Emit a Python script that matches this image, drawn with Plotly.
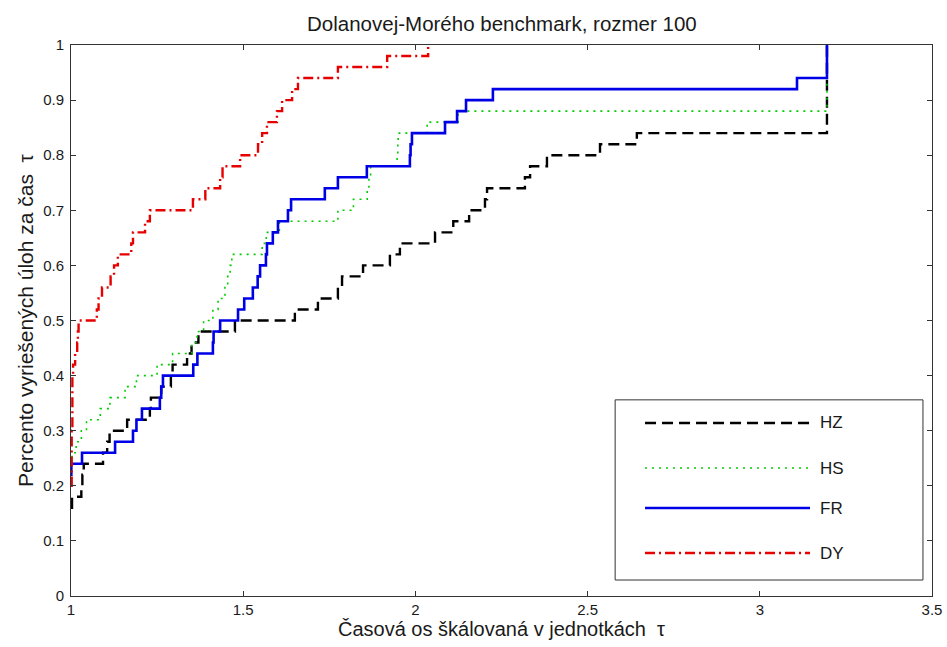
import plotly.graph_objects as go

# ---- data (performance profile) ----
hz_x = [1.000, 1.003, 1.030, 1.033, 1.037, 1.093, 1.105, 1.112, 1.163, 1.229, 1.232, 1.262,
        1.290, 1.295, 1.337, 1.350, 1.370, 1.476, 1.650, 1.717, 1.775, 1.787, 1.848, 1.926,
        1.955, 2.057, 2.110, 2.156, 2.202, 2.208, 2.318, 2.333, 2.382, 2.536, 2.643, 3.195]
hz_y = [0.16, 0.18, 0.20, 0.22, 0.24, 0.26, 0.28, 0.30, 0.32, 0.34, 0.36, 0.38,
        0.40, 0.42, 0.44, 0.46, 0.48, 0.50, 0.52, 0.54, 0.56, 0.58, 0.60, 0.62,
        0.64, 0.66, 0.68, 0.70, 0.72, 0.74, 0.76, 0.78, 0.80, 0.82, 0.84, 1.00]

hs_x = [1.000, 1.003, 1.015, 1.030, 1.045, 1.085, 1.113, 1.157, 1.190, 1.250, 1.295, 1.351,
        1.366, 1.385, 1.412, 1.427, 1.447, 1.455, 1.462, 1.467, 1.555, 1.567, 1.605, 1.775,
        1.820, 1.860, 1.865, 1.870, 1.947, 1.949, 1.950, 2.034, 2.124, 3.195]
hs_y = [0.24, 0.26, 0.28, 0.30, 0.32, 0.34, 0.36, 0.38, 0.40, 0.42, 0.44, 0.46,
        0.48, 0.50, 0.52, 0.54, 0.56, 0.58, 0.60, 0.62, 0.64, 0.66, 0.68, 0.70,
        0.72, 0.74, 0.76, 0.78, 0.80, 0.82, 0.84, 0.86, 0.88, 1.00]

fr_x = [1.000, 1.001, 1.032, 1.128, 1.180, 1.190, 1.206, 1.258, 1.262, 1.267, 1.355, 1.367,
        1.412, 1.414, 1.433, 1.485, 1.503, 1.528, 1.542, 1.549, 1.566, 1.569, 1.586, 1.601,
        1.630, 1.639, 1.737, 1.775, 1.859, 1.984, 1.986, 1.990, 2.086, 2.121, 2.147, 2.225,
        3.108, 3.195]
fr_y = [0.22, 0.24, 0.26, 0.28, 0.30, 0.32, 0.34, 0.36, 0.38, 0.40, 0.42, 0.44,
        0.46, 0.48, 0.50, 0.52, 0.54, 0.56, 0.58, 0.60, 0.62, 0.64, 0.66, 0.68,
        0.70, 0.72, 0.74, 0.76, 0.78, 0.80, 0.82, 0.84, 0.86, 0.88, 0.90, 0.92,
        0.94, 1.00]

dy_x = [1.000, 1.002, 1.004, 1.006, 1.012, 1.018, 1.020, 1.022, 1.075, 1.080, 1.090, 1.115,
        1.125, 1.136, 1.175, 1.180, 1.215, 1.229, 1.354, 1.390, 1.433, 1.440, 1.491, 1.543,
        1.555, 1.569, 1.598, 1.613, 1.642, 1.659, 1.775, 1.918, 2.037]
dy_y = [0.20, 0.30, 0.40, 0.42, 0.44, 0.46, 0.48, 0.50, 0.52, 0.54, 0.56, 0.58,
        0.60, 0.62, 0.64, 0.66, 0.68, 0.70, 0.72, 0.74, 0.76, 0.78, 0.80, 0.82,
        0.84, 0.86, 0.88, 0.90, 0.92, 0.94, 0.96, 0.98, 1.00]

series_names = ["HZ", "HS", "FR", "DY"]

x_ticks = [1, 1.5, 2, 2.5, 3, 3.5]
x_tick_labels = ["1", "1.5", "2", "2.5", "3", "3.5"]
y_ticks = [0, 0.1, 0.2, 0.3, 0.4, 0.5, 0.6, 0.7, 0.8, 0.9, 1]
y_tick_labels = ["0", "0.1", "0.2", "0.3", "0.4", "0.5", "0.6", "0.7", "0.8", "0.9", "1"]

FONT = "Liberation Sans, Arial, sans-serif"
TXT = "#1a1a1a"

styles = [
    dict(color="black", width=2.4, dash="11px,6px"),
    dict(color="#00cc00", width=1.6, dash="2px,5px"),
    dict(color="#0000e6", width=2.6, dash="solid"),
    dict(color="#e60000", width=2.4, dash="10px,4px,2px,4px"),
]
data = [(hz_x, hz_y), (hs_x, hs_y), (fr_x, fr_y), (dy_x, dy_y)]

fig = go.Figure()
for name, (xs, ys), ln in zip(series_names, data, styles):
    fig.add_trace(go.Scatter(x=xs, y=ys, mode="lines", name=name, line=ln,
                             line_shape="hv", showlegend=False))

# ---- legend box drawn in the MATLAB style (lines + labels inside a framed box) ----
fig.add_shape(type="rect", xref="paper", yref="paper", x0=0.632, x1=0.9895, y0=0.029, y1=0.356,
              line=dict(color="#333333", width=1), fillcolor="white", layer="above")
row_y = [0.314, 0.2323, 0.1597, 0.078]
for name, ln, ry in zip(series_names, styles, row_y):
    fig.add_shape(type="line", xref="paper", yref="paper", x0=0.6667, x1=0.8583, y0=ry, y1=ry,
                  line=ln, layer="above")
    fig.add_annotation(xref="paper", yref="paper", x=0.868, y=ry, text=name, showarrow=False,
                       xanchor="left", yanchor="middle",
                       font=dict(family=FONT, size=17, color=TXT))

axis_common = dict(showline=True, linecolor="#333333", linewidth=1, mirror="ticks",
                   ticks="inside", ticklen=5, tickcolor="#333333", showgrid=False,
                   zeroline=False, automargin=False,
                   tickfont=dict(family=FONT, size=15, color=TXT))

fig.update_layout(
    width=947, height=647,
    margin=dict(l=71, r=15, t=45, b=51),
    paper_bgcolor="white", plot_bgcolor="white",
    title=dict(text="Dolanovej-Morého benchmark, rozmer 100", x=0.530, xanchor="center",
               y=0.963, yanchor="middle", font=dict(family=FONT, size=20.5, color=TXT)),
    xaxis=dict(range=[1, 3.5], tickvals=x_ticks, ticktext=x_tick_labels,
               title=dict(text="Časová os škálovaná v jednotkách  τ", standoff=1,
                          font=dict(family=FONT, size=20, color=TXT)),
               **axis_common),
    yaxis=dict(range=[0, 1], tickvals=y_ticks, ticktext=y_tick_labels, ticklabelstandoff=3,
               title=dict(text="Percento vyriešených úloh za čas  τ", standoff=3,
                          font=dict(family=FONT, size=21, color=TXT)),
               **axis_common),
    showlegend=False,
)

fig.write_html("out.html")
